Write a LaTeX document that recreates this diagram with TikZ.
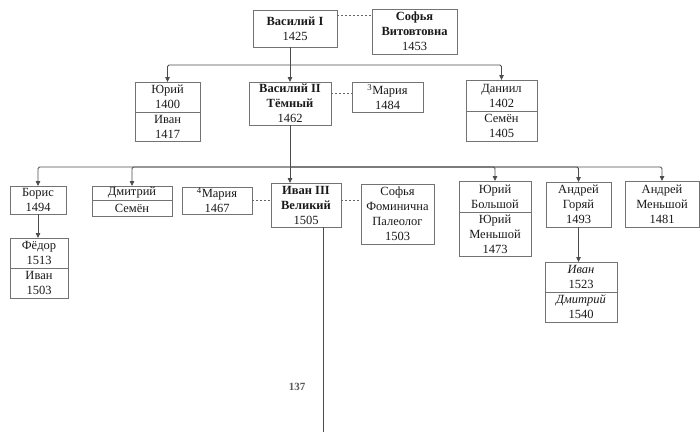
\documentclass[tikz,border=0pt]{standalone}
\usepackage{fontspec}
\setmainfont{Liberation Serif}
\usepackage{tikz}
\usetikzlibrary{positioning, arrows.meta}

\begin{document}
\begin{tikzpicture}[
    x=1pt, y=-1pt,
    every node/.style={font=\fontsize{12.5}{15}\selectfont, text=black!90},
    box/.style={rectangle, draw=black!55, line width=0.8pt, align=center, inner xsep=2pt, inner ysep=0.5pt, outer sep=0pt, anchor=north west},
    line/.style={draw=black!70, line width=0.8pt},
    arr/.style={line, rounded corners=1.5pt, -{Triangle[length=5pt, width=4.5pt]}},
    marriage/.style={draw=black!60, line width=0.8pt, dash pattern=on 2pt off 2pt},
    pagenum/.style={font=\fontsize{11}{12}\selectfont\bfseries, text=black!65},
]
\useasboundingbox (0,0) rectangle (700,436);

% top row
\node[box, minimum width=84, minimum height=37] (vasilij1) at (253,10) {\textbf{Василий I}\\1425};
\node[box, minimum width=85, minimum height=45] (sofia1) at (372,9) {\textbf{Софья}\\\textbf{Витовтовна}\\1453};
\draw[marriage] ([yshift=-5pt]vasilij1.north east) -- ([yshift=-5pt]vasilij1.north east -| sofia1.west);

% second row
\node[box, minimum width=65, minimum height=30] (yurij) at (135,82) {Юрий\\1400};
\node[box, minimum width=65, minimum height=29, below=0pt of yurij] (ivan1) {Иван\\1417};
\node[box, minimum width=82, minimum height=43] (vasilij2) at (249,82) {\textbf{Василий II}\\\textbf{Тёмный}\\1462};
\node[box, minimum width=71, minimum height=30] (maria3) at (352,82) {\textsuperscript{3}Мария\\1484};
\node[box, minimum width=71, minimum height=31] (daniil) at (466,80) {Даниил\\1402};
\node[box, minimum width=71, minimum height=30, below=0pt of daniil] (semen1) {Семён\\1405};
\draw[marriage] ([yshift=4pt]maria3.west -| vasilij2.east) -- ([yshift=4pt]maria3.west);

% children of Vasilij I
\coordinate (bar1) at (290,65);
\draw[line] (vasilij2.north |- vasilij1.south) -- (bar1);
\draw[arr] (bar1) -| (yurij.north);
\draw[arr] (bar1) -- (vasilij2.north);
\draw[arr] (bar1) -| (daniil.north);

% third row
\node[box, minimum width=56, minimum height=28] (boris) at (10,186) {Борис\\1494};
\node[box, minimum width=58, minimum height=30] (fedor) at (10,238) {Фёдор\\1513};
\node[box, minimum width=58, minimum height=30, below=0pt of fedor] (ivan2) {Иван\\1503};
\node[box, minimum width=80, minimum height=14] (dmitrij) at (92,186) {Дмитрий};
\node[box, minimum width=80, minimum height=16, below=0pt of dmitrij] (semen2) {Семён};
\node[box, minimum width=70, minimum height=27] (maria4) at (182,187) {\textsuperscript{4}Мария\\1467};
\node[box, minimum width=70, minimum height=44] (ivan3) at (271,183) {\textbf{Иван III}\\\textbf{Великий}\\1505};
\node[box, minimum width=73, minimum height=60] (sofia2) at (361,184) {Софья\\Фоминична\\Палеолог\\1503};
\node[box, minimum width=72, minimum height=31] (yurijB) at (459,181) {Юрий\\Большой};
\node[box, minimum width=72, minimum height=44, below=0pt of yurijB] (yurijM) {Юрий\\Меньшой\\1473};
\node[box, minimum width=65, minimum height=45] (andrejG) at (546,182) {Андрей\\Горяй\\1493};
\node[box, minimum width=74, minimum height=46] (andrejM) at (625,181) {Андрей\\Меньшой\\1481};
\node[box, minimum width=72, minimum height=30] (ivanI) at (545,262) {\textit{Иван}\\1523};
\node[box, minimum width=72, minimum height=30, below=0pt of ivanI] (dmitrijI) {\textit{Дмитрий}\\1540};
\draw[marriage] (maria4.east) -- (maria4.east -| ivan3.west);
\draw[marriage] (maria4.east -| ivan3.east) -- (maria4.east -| sofia2.west);

% children of Vasilij II
\coordinate (bar2) at (290,167);
\draw[line] (vasilij2.south) -- (bar2);
\draw[arr] (bar2) -| (boris.north);
\draw[arr] (bar2) -| (dmitrij.north);
\draw[arr] (bar2) -- (bar2 |- ivan3.north);
\draw[arr] (bar2) -| (yurijB.north);
\draw[arr] (bar2) -| (andrejG.north);
\draw[arr] (bar2) -| (andrejM.north);

% grandchildren
\draw[arr] (boris.south) -- (boris.south |- fedor.north);
\draw[arr] (andrejG.south) -- (andrejG.south |- ivanI.north);

% line running on to the next page
\coordinate (pagebottom) at (323,432);
\draw[line] (pagebottom |- ivan3.south) -- (pagebottom);
\node[pagenum] (pageno) at (297,387) {137};

\end{tikzpicture}
\end{document}
